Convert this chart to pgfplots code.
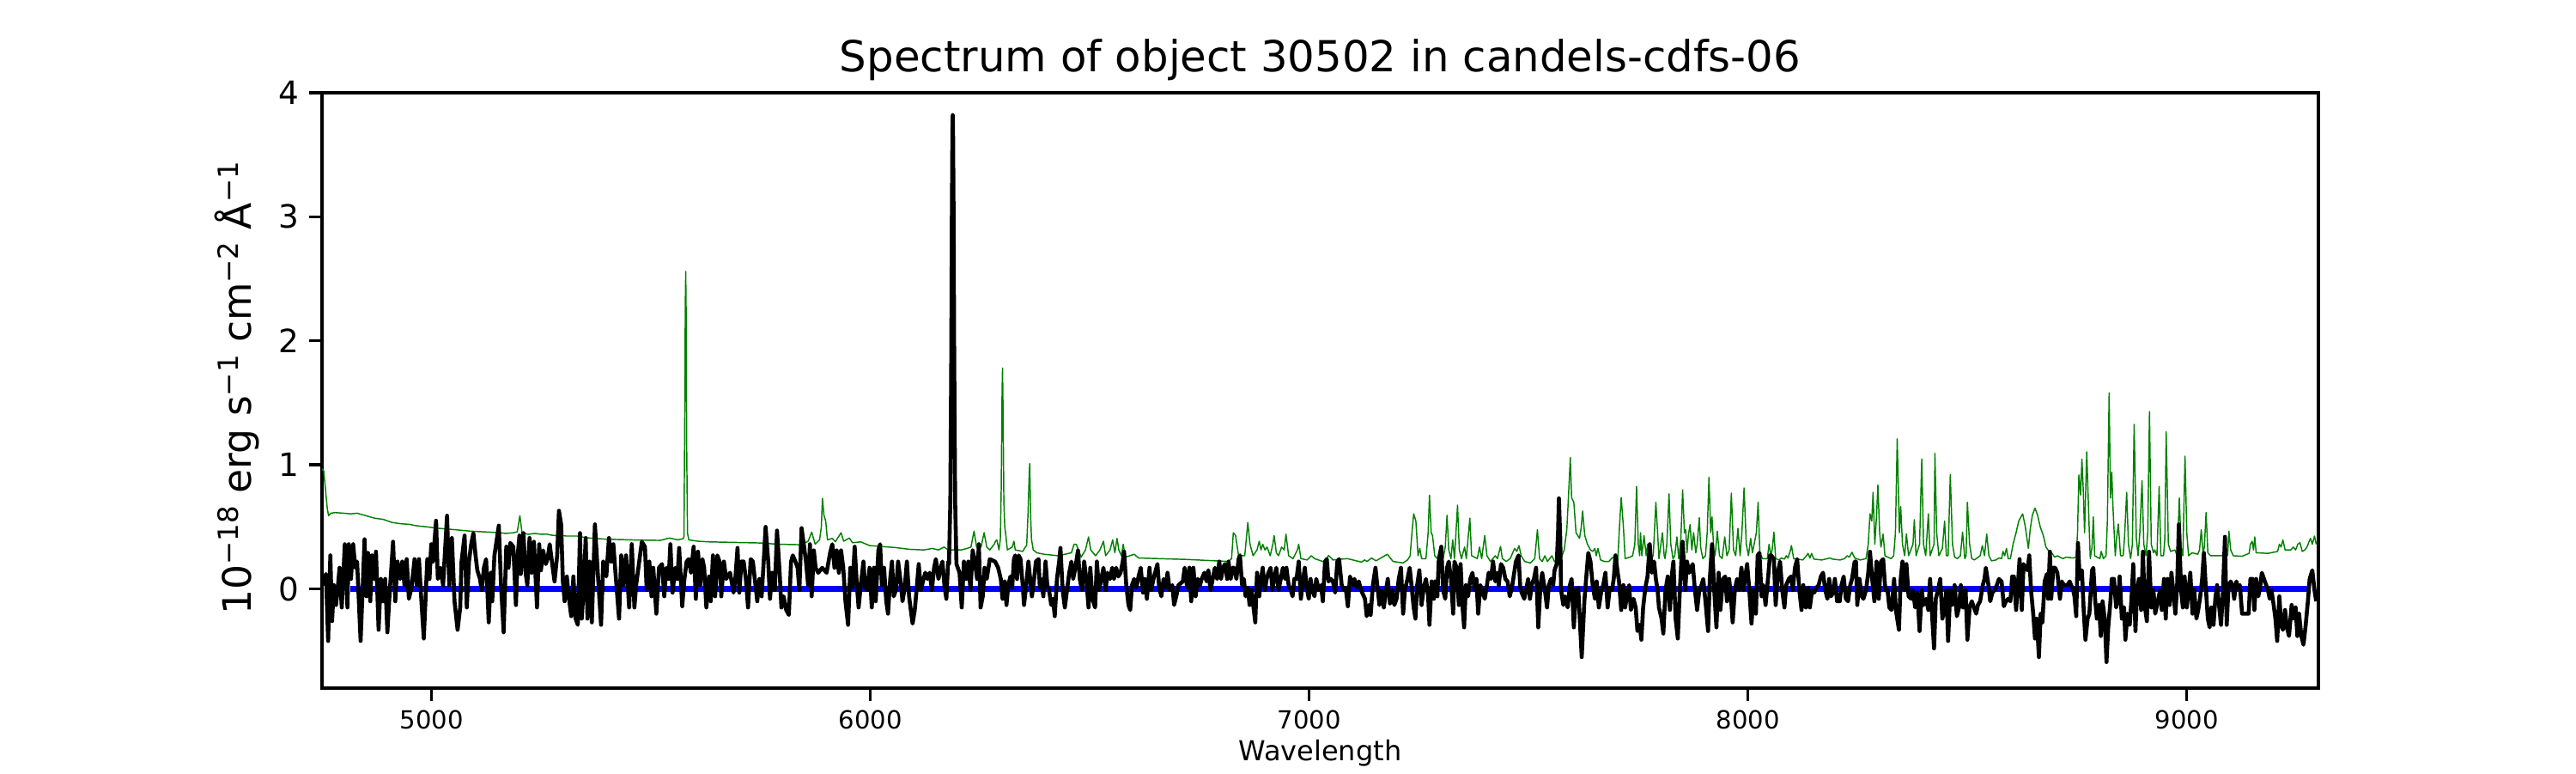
\documentclass[border=0pt]{standalone}
\usepackage{fontspec}
\setmainfont{DejaVu Sans}
\usepackage{pgfplots}
\pgfplotsset{compat=1.18}
\definecolor{mplgreen}{RGB}{0,128,0}
\newcommand{\sups}[1]{\raisebox{3.8bp}{\fontsize{7.8}{9}\selectfont #1}}
\begin{document}
\begin{tikzpicture}
\path[use as bounding box] (-90bp,-23.76bp) rectangle (630bp,192.24bp);
\begin{axis}[
  at={(0,0)}, anchor=south west,
  scale only axis, width=558bp, height=166.32bp,
  xmin=4750, xmax=9300, ymin=-0.8, ymax=4,
  axis line style={line width=0.8bp},
  every tick/.style={line width=0.8bp, black},
  tick align=outside, major tick length=3.5bp,
  xtick pos=bottom, ytick pos=left,
  xtick={5000,6000,7000,8000,9000},
  xticklabels={5000,6000,7000,8000,9000},
  ytick={0,1,2,3,4}, yticklabels={0,1,2,3,4},
  minor tick num=0, scaled ticks=false,
  xticklabel style={font=\fontsize{7}{8}\selectfont, anchor=base, inner sep=0pt, yshift=-7.8bp},
  yticklabel style={font=\fontsize{9}{10}\selectfont, anchor=east, inner sep=0pt, xshift=-2.6bp},
  every axis title/.style={at={(axis description cs:0.5,1)}, anchor=base, yshift=6bp, font=\fontsize{12}{14}\selectfont},
  every axis x label/.style={at={(axis description cs:0.5,0)}, anchor=base, yshift=-20.2bp, font=\fontsize{7.7}{9}\selectfont},
  every axis y label/.style={at={(axis description cs:-0.0353,0.504)}, rotate=90, anchor=base, font=\fontsize{11}{13}\selectfont},
  title={Spectrum of object 30502 in candels-cdfs-06},
  xlabel={Wavelength},
  ylabel={10\sups{−18} erg s\sups{−1} cm\sups{−2} Å\sups{−1}},
  clip=true,
]
% sky / noise spectrum (green)
\addplot[mplgreen, line width=0.35bp, mark=none, line join=round] coordinates {
(4750,0.97)(4754,0.95)(4758,0.8)(4762,0.65)(4765,0.59)(4770,0.61)(4780,0.615)(4800,0.61)(4815,0.605)(4830,0.61)
(4850,0.59)(4870,0.57)(4890,0.56)(4910,0.535)(4930,0.525)(4950,0.52)(4960,0.512)(4975,0.505)(4990,0.50)(5010,0.49)
(5050,0.478)(5090,0.465)(5130,0.458)(5155,0.453)(5168,0.447)(5185,0.452)(5195,0.46)(5201,0.59)(5206,0.45)(5220,0.44)
(5235,0.447)(5250,0.44)(5261,0.442)(5270,0.435)(5280,0.43)(5290,0.435)(5306,0.426)(5332,0.426)(5352,0.412)(5391,0.402)
(5424,0.398)(5456,0.395)(5500,0.392)(5521,0.391)(5542,0.41)(5561,0.395)(5573,0.405)(5575,0.42)(5577,1.5)(5578,2.3)
(5579,2.56)(5580,2.2)(5581,1.2)(5583,0.45)(5586,0.395)(5607,0.384)(5633,0.379)(5698,0.374)(5750,0.37)(5789,0.36)
(5842,0.356)(5858,0.384)(5866,0.458)(5874,0.36)(5884,0.395)(5888,0.5)(5890.5,0.73)(5894,0.593)(5898,0.547)(5902,0.395)
(5913,0.407)(5920,0.38)(5933,0.453)(5939,0.384)(5952,0.41)(5959,0.372)(5978,0.379)(5998,0.349)(6024,0.342)(6057,0.333)
(6089,0.319)(6122,0.314)(6141,0.326)(6155,0.314)(6168,0.337)(6177,0.314)(6207,0.314)(6220,0.326)(6229,0.337)(6236,0.465)
(6242,0.337)(6252,0.337)(6259,0.453)(6265,0.337)(6272,0.314)(6282,0.36)(6285,0.384)(6288,0.395)(6293,0.314)(6296,0.40)
(6298,0.8)(6300,1.6)(6301,1.78)(6302,1.5)(6304,0.7)(6306,0.5)(6308,0.45)(6312,0.314)(6323,0.337)(6327,0.384)
(6330,0.314)(6347,0.302)(6353,0.337)(6356,0.35)(6359,0.6)(6362,0.95)(6363,1.01)(6365,0.6)(6367,0.4)(6371,0.314)
(6379,0.291)(6396,0.279)(6428,0.267)(6458,0.291)(6464,0.36)(6469,0.36)(6474,0.314)(6480,0.256)(6490,0.314)(6497,0.419)
(6502,0.314)(6513,0.267)(6523,0.314)(6531,0.384)(6536,0.267)(6546,0.314)(6552,0.395)(6557,0.291)(6562,0.407)(6566,0.314)
(6572,0.267)(6576,0.36)(6581,0.256)(6601,0.279)(6611,0.249)(6656,0.244)(6722,0.237)(6787,0.226)(6816,0.221)(6823,0.244)
(6827,0.453)(6832,0.43)(6839,0.267)(6853,0.267)(6860,0.535)(6865,0.36)(6872,0.267)(6881,0.314)(6886,0.384)(6890,0.314)
(6894,0.36)(6899,0.314)(6904,0.337)(6911,0.267)(6917,0.36)(6920,0.43)(6925,0.291)(6930,0.267)(6937,0.337)(6943,0.314)
(6947,0.442)(6953,0.267)(6963,0.244)(6973,0.314)(6976,0.36)(6981,0.244)(6995,0.233)(7005,0.267)(7012,0.244)(7031,0.221)
(7035,0.21)(7044,0.27)(7054,0.233)(7087,0.244)(7119,0.216)(7126,0.233)(7132,0.221)(7142,0.249)(7152,0.226)(7178,0.279)
(7191,0.221)(7214,0.209)(7224,0.233)(7230,0.267)(7234,0.45)(7238,0.605)(7243,0.547)(7248,0.267)(7252,0.326)(7256,0.244)
(7266,0.244)(7271,0.453)(7274,0.756)(7278,0.453)(7281,0.43)(7286,0.267)(7292,0.244)(7299,0.337)(7305,0.244)(7310,0.337)
(7314,0.593)(7318,0.314)(7323,0.244)(7327,0.395)(7331,0.244)(7338,0.674)(7342,0.314)(7347,0.244)(7354,0.337)(7358,0.244)
(7366,0.57)(7370,0.267)(7383,0.244)(7388,0.337)(7393,0.244)(7400,0.43)(7405,0.267)(7413,0.221)(7424,0.267)(7429,0.244)
(7436,0.342)(7440,0.244)(7449,0.221)(7458,0.244)(7468,0.326)(7473,0.302)(7478,0.349)(7483,0.267)(7491,0.221)(7504,0.209)
(7514,0.244)(7517,0.36)(7520,0.477)(7525,0.244)(7531,0.221)(7537,0.267)(7543,0.221)(7553,0.267)(7559,0.221)(7570,0.209)
(7581,0.314)(7587,0.477)(7590,0.686)(7595,1.058)(7598,0.733)(7603,0.698)(7608,0.453)(7616,0.407)(7620,0.5)(7623,0.628)
(7628,0.43)(7634,0.36)(7641,0.314)(7646,0.302)(7651,0.326)(7654,0.267)(7658,0.326)(7664,0.233)(7673,0.221)(7683,0.221)
(7692,0.256)(7703,0.221)(7707,0.5)(7711,0.737)(7716,0.5)(7720,0.244)(7731,0.256)(7737,0.267)(7742,0.36)(7746,0.826)
(7750,0.36)(7753,0.267)(7755,0.453)(7758,0.267)(7763,0.43)(7768,0.267)(7771,0.36)(7776,0.244)(7784,0.267)(7790,0.698)
(7794,0.453)(7797,0.244)(7805,0.453)(7809,0.267)
(7811,0.244)(7815,0.36)(7820,0.767)(7824,0.36)(7829,0.244)(7833,0.267)(7838,0.419)(7842,0.244)(7847,0.407)(7851,0.798)
(7855,0.453)(7858,0.477)(7861,0.291)(7864,0.43)(7868,0.519)(7872,0.314)(7876,0.453)(7881,0.291)(7884,0.36)(7889,0.574)
(7892,0.337)(7897,0.244)(7903,0.267)(7907,0.453)(7911,0.9)(7915,0.453)(7918,0.581)(7922,0.314)(7925,0.267)(7930,0.465)
(7935,0.267)(7941,0.244)(7947,0.419)(7952,0.267)(7957,0.314)(7962,0.772)(7967,0.314)(7972,0.267)(7977,0.488)(7982,0.267)
(7986,0.453)(7991,0.814)(7996,0.36)(8001,0.267)(8006,0.407)(8010,0.291)(8014,0.36)(8019,0.453)(8023,0.698)(8027,0.291)
(8033,0.244)(8044,0.244)(8048,0.36)(8052,0.267)(8055,0.314)(8059,0.458)(8063,0.244)(8070,0.233)(8076,0.249)(8083,0.24)
(8087,0.267)(8091,0.249)(8096,0.302)(8099,0.349)(8104,0.244)(8125,0.233)(8133,0.267)(8137,0.286)(8141,0.249)(8145,0.286)
(8150,0.24)(8168,0.233)(8187,0.249)(8192,0.24)(8210,0.233)(8220,0.244)(8226,0.267)(8231,0.256)(8237,0.295)(8243,0.249)
(8256,0.233)(8269,0.244)(8274,0.36)(8278,0.605)(8282,0.547)(8285,0.779)(8289,0.36)(8293,0.593)(8296,0.837)(8300,0.453)
(8303,0.337)(8308,0.442)(8312,0.267)(8326,0.244)(8332,0.267)(8336,0.453)(8340,1.209)(8345,0.453)(8348,0.663)(8352,0.36)
(8357,0.267)(8361,0.442)(8366,0.267)(8376,0.36)(8379,0.558)(8383,0.267)(8391,0.36)(8396,1.047)(8400,0.36)(8405,0.267)
(8411,0.605)(8415,0.267)(8424,0.36)(8426,1.093)(8430,0.453)(8435,0.267)(8443,0.326)(8448,0.547)(8452,0.267)(8456,0.267)
(8461,0.923)(8466,0.36)(8471,0.256)(8477,0.244)(8484,0.267)(8489,0.458)(8494,0.244)(8497,0.267)(8500,0.698)(8505,0.36)
(8510,0.244)(8516,0.233)(8529,0.267)(8534,0.349)(8539,0.267)(8544,0.442)(8549,0.267)(8555,0.226)(8565,0.233)(8572,0.249)
(8578,0.244)(8581,0.302)(8585,0.267)(8589,0.326)(8593,0.244)(8598,0.244)(8604,0.36)(8611,0.453)(8617,0.547)(8626,0.605)
(8632,0.5)(8639,0.326)(8643,0.477)(8648,0.593)(8654,0.651)(8660,0.593)(8666,0.5)(8673,0.43)(8679,0.337)(8686,0.302)
(8692,0.291)(8699,0.256)(8705,0.267)(8718,0.244)(8725,0.256)(8741,0.249)(8748,0.256)(8751,0.453)(8754,0.919)(8758,0.756)
(8761,1.047)(8764,0.802)(8767,0.453)(8772,1.105)(8777,0.547)(8780,0.244)(8784,0.337)(8787,0.581)(8790,0.267)(8802,0.244)
(8805,0.302)(8810,0.244)(8816,0.267)(8819,0.547)(8823,1.581)(8826,0.733)(8829,0.942)(8832,0.64)(8837,0.267)(8840,0.407)
(8844,0.523)(8849,0.267)(8855,0.267)(8858,0.407)(8863,0.779)(8867,0.36)(8872,0.244)(8876,0.36)(8880,1.326)(8885,0.407)
(8889,0.267)(8893,0.453)(8898,0.872)(8902,0.36)(8907,0.267)(8911,0.453)(8915,1.43)(8919,0.36)(8924,0.291)(8927,0.314)
(8932,0.267)(8937,0.826)(8941,0.267)(8947,0.267)(8950,0.407)(8953,1.267)(8958,0.36)(8963,0.302)(8973,0.314)(8978,0.267)
(8983,0.733)(8987,0.337)(8991,0.267)(8996,1.07)(9000,0.453)(9004,0.267)(9012,0.291)(9025,0.279)(9029,0.314)(9033,0.477)
(9037,0.291)(9040,0.337)(9044,0.616)(9048,0.291)(9054,0.267)(9074,0.267)(9093,0.267)(9096,0.465)(9100,0.314)(9106,0.267)
(9126,0.263)(9142,0.286)(9145,0.36)(9149,0.384)(9152,0.314)(9155,0.419)(9158,0.291)(9185,0.286)(9207,0.302)(9211,0.36)
(9215,0.337)(9219,0.395)(9224,0.314)(9237,0.314)(9243,0.337)(9248,0.314)(9253,0.36)(9258,0.372)(9263,0.302)(9269,0.314)
(9274,0.337)(9279,0.384)(9282,0.407)(9286,0.36)(9291,0.426)(9295,0.36)
};
% zero level (blue)
\addplot[blue, line width=1.5bp, mark=none] coordinates {(4814,0) (9282,0)};
% object spectrum (black)
\addplot[black, line width=1.1bp, mark=none, line join=round] coordinates {
(4751,0.03)(4759,0.12)(4764,-0.42)(4769,0.27)(4773,-0.26)(4777,0.03)(4782,-0.13)(4786,0.01)(4790,0.17)(4795,-0.15)
(4802,0.36)(4808,-0.15)(4811,0.36)(4816,0.08)(4821,0.36)(4826,0.17)(4830,0.22)(4838,-0.42)(4847,0.40)(4851,-0.06)
(4855,0.29)(4860,-0.10)(4864,0.27)(4870,0.08)(4873,0.30)(4879,-0.33)(4884,0.08)(4889,-0.10)(4894,0.08)(4899,-0.35)
(4903,-0.10)(4912,0.38)(4917,-0.10)(4922,0.22)(4928,0.08)(4933,0.22)(4938,0.03)(4943,0.24)(4948,-0.08)(4954,0.01)
(4961,0.24)(4966,0.03)(4971,0.24)(4975,-0.01)(4982,-0.40)(4990,0.24)(4995,0.08)(4999,0.36)(5003,0.22)(5010,0.55)
(5014,0.08)(5020,0.17)(5026,0.03)(5029,0.22)(5035,0.59)(5040,0.03)(5046,0.41)(5052,-0.10)(5059,-0.33)(5065,-0.15)
(5068,0.22)(5075,0.43)(5080,-0.15)(5085,0.22)(5090,0.36)(5095,0.45)(5100,0.27)(5104,0.15)(5110,0.08)(5114,-0.01)
(5119,0.17)(5124,0.24)(5130,-0.27)(5135,0.13)(5138,-0.10)(5143,0.27)(5153,0.51)(5158,0.03)(5164,-0.35)(5170,0.34)
(5175,0.17)(5179,0.37)(5186,0.34)(5192,-0.13)(5196,0.27)(5200,0.43)(5203,0.12)(5209,0.45)(5214,0.13)(5218,0.03)
(5223,0.41)(5228,0.13)(5233,0.38)(5240,-0.15)(5245,0.36)(5249,0.15)(5254,0.31)(5260,0.20)(5264,0.24)(5269,0.36)
(5274,0.22)(5280,0.06)(5286,0.27)(5290,0.63)(5295,0.52)(5299,0.06)(5303,-0.10)(5308,0.10)(5313,-0.08)(5318,-0.22)
(5323,0.10)(5328,-0.24)(5333,-0.29)(5338,0.45)(5342,-0.24)(5346,-0.01)(5351,0.41)(5355,-0.24)(5360,0.22)(5365,-0.27)
(5372,0.52)(5377,0.22)(5381,-0.01)(5386,-0.29)(5391,0.22)(5398,0.10)(5404,0.41)(5409,0.22)(5414,0.36)(5421,0.03)
(5427,-0.24)(5432,0.27)(5437,0.03)(5443,0.27)(5450,-0.15)(5456,0.36)(5462,-0.15)(5466,0.03)(5473,0.22)(5479,0.38)
(5486,0.34)(5490,-0.01)(5496,0.22)(5501,-0.06)(5505,0.17)(5512,-0.20)(5518,0.17)
(5525,0.20)(5530,-0.06)(5535,0.17)(5540,0.08)(5544,0.36)(5549,-0.03)(5555,0.17)(5560,0.08)(5564,0.33)(5571,-0.14)
(5576,0.08)(5581,0.22)(5586,0.24)(5591,0.13)(5597,0.34)(5602,-0.08)(5607,0.30)(5612,0.03)(5617,0.24)(5621,0.17)
(5626,-0.15)(5632,0.10)(5636,-0.10)(5641,0.27)(5646,-0.06)(5651,0.27)(5656,0.22)(5660,-0.06)(5666,0.22)(5671,0.08)
(5680,0.13)(5688,-0.03)(5692,0.08)(5697,0.33)(5701,-0.03)(5706,0.22)(5711,0.22)(5716,0.08)(5721,-0.15)(5727,0.24)
(5732,0.22)(5737,0.06)(5742,-0.10)(5747,0.08)(5752,-0.06)(5757,0.24)(5761,0.50)(5767,0.22)(5771,-0.08)(5776,0.13)
(5782,-0.01)(5787,0.47)(5793,0.13)(5797,-0.15)(5802,-0.06)(5808,-0.17)(5814,-0.21)(5819,0.22)(5823,0.27)(5829,0.22)
(5834,0.17)(5838,-0.01)(5843,0.49)(5848,0.36)(5853,0.22)(5858,0.03)(5862,0.36)(5866,-0.06)(5871,0.31)(5875,0.17)
(5881,0.13)(5890,0.17)(5900,0.13)(5908,0.29)(5913,0.36)(5918,0.17)(5923,0.31)(5928,0.13)(5933,0.31)(5938,0.17)
(5943,-0.10)(5949,-0.29)(5954,0.17)(5959,0.01)(5964,0.34)(5969,0.03)(5973,-0.15)(5978,0.03)(5984,0.22)(5988,0.01)
(5993,-0.01)(5998,0.17)(6003,-0.15)(6008,0.17)(6012,-0.10)(6018,0.31)(6022,0.36)(6026,0.03)(6031,0.17)(6036,-0.10)
(6040,-0.20)(6045,0.08)(6049,0.22)(6053,-0.06)(6058,-0.01)(6063,0.22)(6068,0.08)(6073,-0.10)(6078,0.01)(6083,0.22)
(6088,-0.06)(6093,-0.20)(6096,-0.28)(6101,-0.17)(6106,0.03)(6110,0.20)(6115,-0.01)(6121,0.08)(6125,0.13)(6130,0.08)
(6135,0.13)(6140,-0.01)(6145,0.17)(6149,0.24)(6155,0.08)(6160,0.17)(6164,0.22)(6169,0.01)(6173,-0.08)(6177,0.22)
(6179,0.2)(6182,0.7)(6184.2,1.9)(6185.5,3.0)(6186.8,3.7)(6187.5,3.82)(6188.2,3.7)(6189.5,3.0)(6190.8,1.9)(6193,0.7)
(6196,0.2)(6199,0.17)(6203,0.13)(6208,-0.15)(6213,0.22)(6218,0.08)(6223,0.22)(6228,-0.01)(6233,0.31)(6238,0.22)
(6243,0.08)(6247,0.36)(6251,-0.15)(6256,-0.06)(6260,0.17)(6265,0.08)(6272,0.24)(6284,0.22)
(6291,0.17)(6297,0.08)(6301,-0.08)(6306,0.06)(6310,-0.13)(6314,0.03)(6319,0.10)(6323,0.01)(6327,0.24)(6330,0.27)
(6334,0.08)(6338,0.27)(6342,0.24)(6347,0.03)(6350,-0.13)(6355,0.03)(6360,0.22)(6364,0.08)(6368,-0.06)(6373,0.08)
(6377,0.22)(6383,0.24)(6386,0.01)(6389,0.08)(6394,-0.06)(6399,0.22)(6403,0.03)(6407,-0.01)(6412,-0.13)(6416,-0.08)
(6420,-0.22)(6425,0.08)(6430,0.22)(6433,0.33)(6438,-0.01)(6443,-0.15)(6448,-0.01)(6453,0.13)(6458,0.22)(6462,0.08)
(6467,0.17)(6473,0.31)(6477,0.08)(6482,-0.01)(6487,0.22)(6492,0.08)(6497,-0.15)(6501,0.17)(6506,-0.08)(6512,-0.15)
(6516,0.22)(6521,-0.01)(6526,0.08)(6531,0.17)(6536,-0.01)(6540,0.13)(6546,0.08)(6551,0.17)(6555,0.08)(6560,0.17)
(6565,0.10)(6570,0.13)(6575,0.22)(6578,0.30)(6583,0.03)(6588,-0.13)(6592,-0.17)(6596,0.03)(6601,0.08)(6606,0.01)
(6611,0.10)(6616,0.17)(6621,-0.03)(6625,0.08)(6630,-0.08)(6636,0.17)(6640,-0.01)(6645,0.08)(6654,0.20)(6658,0.01)
(6663,-0.06)(6668,0.08)(6673,0.01)(6677,0.13)(6682,-0.01)(6688,0.03)(6692,-0.13)(6697,-0.06)(6702,0.03)(6712,0.06)
(6716,0.17)(6722,0.01)(6727,0.17)(6731,-0.10)(6736,0.17)(6741,-0.06)(6746,0.08)(6751,0.03)(6755,0.08)(6761,0.13)
(6766,0.06)(6770,0.15)(6775,-0.01)(6780,0.08)(6785,0.17)(6790,0.08)(6795,0.22)(6799,0.08)(6803,0.17)(6808,0.20)
(6813,0.08)(6816,0.22)(6821,0.08)(6825,0.17)(6829,0.17)(6834,0.08)(6839,0.24)(6842,0.27)(6847,0.03)(6851,0.08)
(6855,-0.06)(6860,0.01)(6864,-0.13)(6868,-0.01)(6873,-0.15)(6877,-0.27)(6881,0.13)(6886,-0.06)(6890,0.08)(6894,0.17)
(6899,-0.01)(6903,0.08)(6907,0.13)(6912,0.17)(6916,-0.01)(6920,0.08)(6925,0.17)(6930,-0.01)(6935,0.08)(6940,0.17)
(6945,0.08)(6948,0.17)(6953,0.03)(6958,-0.01)(6962,-0.06)(6966,0.08)(6971,0.08)(6976,0.22)(6981,-0.08)(6986,0.08)
(6990,0.17)(6994,0.01)(6999,-0.08)(7003,0.08)(7007,-0.01)(7012,-0.06)(7016,0.08)(7022,-0.01)(7027,0.03)(7031,-0.10)
(7036,0.22)(7040,0.24)
(7044,0.06)(7049,0.08)(7054,0.06)(7059,-0.03)(7064,0.22)(7068,0.24)(7074,0.03)(7079,-0.01)(7083,0.01)(7088,-0.14)
(7093,0.10)(7098,0.03)(7103,0.08)(7108,0.01)(7113,0.06)(7118,-0.01)(7127,-0.08)(7131,-0.22)(7136,-0.13)(7140,-0.21)
(7145,0.03)(7151,0.17)(7155,0.03)(7160,-0.13)(7165,-0.01)(7170,-0.15)(7175,-0.01)(7179,0.08)(7184,-0.12)(7190,-0.01)
(7194,-0.13)(7199,-0.08)(7204,0.08)(7209,0.17)(7214,-0.20)(7218,-0.01)(7224,0.08)(7229,0.17)(7233,0.03)(7238,-0.15)
(7242,-0.24)(7246,0.03)(7251,0.15)(7256,-0.13)(7261,0.01)(7266,0.08)(7271,-0.06)(7274,-0.29)(7279,0.06)(7284,-0.08)
(7287,0.06)(7292,-0.06)(7295,0.22)(7301,0.34)(7305,-0.01)(7310,-0.08)(7314,0.17)(7318,0.22)(7323,0.08)(7328,-0.20)
(7331,0.22)(7336,0.17)(7341,-0.13)(7345,0.20)(7349,-0.13)(7353,-0.31)(7357,0.03)(7362,-0.06)(7367,0.08)(7372,0.13)
(7377,-0.01)(7381,0.08)(7385,-0.20)(7390,0.03)(7394,-0.01)(7400,-0.08)(7405,0.03)(7409,0.13)(7414,0.08)(7419,0.22)
(7424,0.06)(7429,0.13)(7432,0.03)(7437,0.20)(7442,0.17)(7447,0.08)(7452,0.06)(7457,-0.06)(7462,0.01)(7471,0.22)
(7477,0.27)(7481,0.01)(7484,-0.03)(7490,-0.08)(7494,-0.01)(7499,0.08)(7503,-0.08)(7507,0.03)(7512,0.08)(7517,0.17)
(7522,-0.31)(7527,0.03)(7531,0.13)(7537,-0.01)(7542,-0.15)(7546,0.03)(7551,0.08)(7556,0.03)(7559,0.15)(7564,0.20)
(7567,0.45)(7569,0.73)(7572,0.41)(7574,-0.01)(7579,-0.13)(7583,-0.06)(7589,-0.15)(7594,0.03)(7598,0.08)(7603,-0.31)
(7608,-0.01)(7613,0.01)(7618,-0.34)(7621,-0.55)(7627,-0.10)(7631,0.08)(7636,0.29)(7641,0.22)(7646,0.03)(7651,-0.08)
(7655,0.06)(7660,-0.15)(7666,-0.01)(7670,0.03)(7675,0.13)(7680,-0.15)(7685,0.01)(7690,-0.01)(7694,0.08)(7698,0.27)
(7703,0.13)(7706,0.06)(7711,-0.17)(7716,0.03)(7720,-0.15)(7724,-0.06)(7729,0.03)(7733,-0.17)(7739,-0.08)(7744,-0.15)
(7748,-0.34)(7753,-0.29)(7757,-0.41)(7761,-0.15)(7766,0.01)(7771,0.10)(7776,0.36)(7781,0.13)(7786,0.22)(7790,0.08)
(7794,-0.01)(7797,-0.15)(7803,-0.24)(7807,-0.36)
(7812,-0.01)(7817,0.10)(7822,-0.17)(7827,0.13)(7830,0.22)(7835,-0.24)(7840,-0.40)(7844,-0.06)(7848,0.22)(7851,0.38)
(7857,-0.01)(7861,0.22)(7866,0.13)(7870,0.17)(7874,0.20)(7879,-0.01)(7884,-0.17)(7889,-0.01)(7894,0.03)(7898,0.08)
(7903,-0.10)(7909,-0.34)(7913,0.08)(7918,0.36)(7923,-0.01)(7928,-0.31)(7933,0.13)(7937,-0.17)(7943,0.08)(7948,0.10)
(7952,-0.10)(7957,0.08)(7961,-0.06)(7965,-0.27)(7970,-0.01)(7975,0.08)(7980,-0.01)(7985,0.17)(7990,-0.01)(7993,0.08)
(7998,0.20)(8003,-0.01)(8008,-0.28)(8013,-0.01)(8018,-0.20)(8022,0.27)(8026,0.29)(8031,-0.06)(8035,0.03)(8040,-0.13)
(8046,0.10)(8050,0.27)(8053,0.27)(8059,0.24)(8063,-0.13)(8068,0.13)(8073,0.22)(8078,-0.01)(8083,-0.15)(8087,0.03)
(8093,0.08)(8098,0.10)(8102,-0.01)(8107,0.17)(8112,0.24)(8117,-0.01)(8122,-0.17)(8126,0.03)(8132,-0.15)(8137,0.01)
(8141,-0.15)(8146,-0.01)(8151,-0.03)(8156,0.01)(8161,0.03)(8166,0.10)(8171,0.13)(8176,-0.01)(8181,-0.08)(8185,0.08)
(8189,-0.06)(8194,-0.03)(8198,0.08)(8203,-0.10)(8209,-0.10)(8213,0.03)(8218,0.10)(8223,-0.08)(8228,-0.10)(8233,0.03)
(8237,0.08)(8243,0.22)(8246,0.22)(8249,-0.13)(8254,0.08)(8259,-0.06)(8263,-0.08)(8269,-0.01)(8274,0.13)(8278,0.30)
(8283,0.08)(8288,-0.10)(8293,0.22)(8298,-0.08)(8303,0.22)(8308,0.24)(8313,-0.01)(8318,-0.01)(8322,-0.15)(8327,-0.17)
(8333,0.08)(8337,-0.17)(8344,-0.33)(8348,0.08)(8352,0.22)(8357,-0.01)(8361,0.20)(8366,-0.06)(8372,-0.08)(8376,-0.01)
(8381,-0.15)(8386,-0.03)(8391,-0.34)(8396,-0.01)(8400,-0.13)(8406,-0.08)(8411,-0.17)(8415,0.08)(8420,-0.24)(8424,-0.48)
(8428,-0.08)(8433,-0.01)(8438,0.08)(8443,-0.24)(8448,-0.15)(8452,-0.01)(8456,-0.42)(8461,-0.01)(8466,-0.13)(8471,0.03)
(8476,-0.22)(8481,-0.15)(8485,0.03)(8490,-0.15)(8496,-0.01)(8500,-0.41)(8505,-0.15)(8510,-0.10)(8515,-0.15)(8520,-0.20)
(8524,-0.13)(8529,-0.10)(8535,0.03)(8539,0.08)(8542,0.17)(8548,0.03)(8552,-0.10)(8557,-0.03)(8562,-0.01)(8567,0.03)
(8572,0.08)
(8574,0.07)(8578,0.06)(8583,-0.14)(8588,-0.10)(8593,-0.08)(8598,-0.10)(8602,0.10)(8606,0.10)(8611,-0.17)(8615,0.03)
(8619,0.24)(8624,-0.17)(8628,0.20)(8632,0.17)(8637,0.15)(8641,0.27)(8645,-0.01)(8650,-0.20)(8654,-0.40)(8658,-0.24)
(8663,-0.55)(8667,-0.20)(8671,-0.27)(8676,0.06)(8681,0.12)(8684,-0.08)(8688,0.30)(8691,-0.08)(8696,0.17)(8700,0.17)
(8705,0.13)(8711,-0.08)(8715,0.06)(8720,0.03)(8728,0.03)(8733,0.06)(8741,-0.01)(8744,-0.06)(8748,-0.22)(8752,0.37)
(8756,0.08)(8761,0.15)(8765,-0.17)(8769,-0.41)(8774,-0.24)(8778,-0.20)(8784,0.15)(8787,0.17)(8791,-0.08)(8795,-0.24)
(8800,-0.13)(8804,-0.38)(8808,-0.10)(8813,-0.24)(8817,-0.59)(8821,-0.31)(8826,-0.10)(8829,0.08)(8834,0.08)(8839,-0.15)
(8844,-0.08)(8847,0.10)(8852,-0.24)(8857,-0.15)(8860,-0.41)(8865,-0.20)(8870,-0.29)(8874,-0.08)(8878,0.20)(8883,-0.34)
(8887,-0.01)(8891,0.08)(8896,-0.17)(8900,0.30)(8904,-0.13)(8909,-0.26)(8914,0.30)(8919,-0.15)(8924,-0.01)(8928,-0.20)
(8934,-0.10)(8939,-0.01)(8943,-0.17)(8948,0.08)(8952,-0.24)(8956,0.08)(8961,-0.13)(8965,0.13)(8969,-0.01)(8974,-0.20)
(8978,0.03)(8982,0.52)(8987,-0.01)(8991,-0.15)(8995,0.10)(9000,-0.15)(9004,-0.01)(9008,0.13)(9013,-0.20)(9017,-0.01)
(9022,-0.24)(9026,-0.17)(9030,-0.08)(9035,0.08)(9039,0.29)(9043,0.03)(9048,-0.24)(9052,-0.31)(9056,-0.15)(9061,-0.29)
(9065,-0.08)(9069,0.03)(9074,-0.15)(9078,-0.29)(9082,-0.06)(9087,0.42)(9091,-0.29)(9095,0.01)(9100,0.06)(9104,0.03)
(9108,-0.08)(9113,0.06)(9117,0.01)(9121,0.03)(9126,-0.20)(9141,-0.20)(9145,0.08)(9150,0.08)(9154,-0.17)(9158,0.08)
(9163,-0.06)(9167,0.01)(9171,0.13)(9176,0.08)(9185,-0.01)(9189,-0.08)(9193,-0.01)(9198,-0.13)(9202,-0.24)(9206,-0.42)
(9211,-0.06)(9215,-0.29)(9219,-0.33)(9224,-0.17)(9228,-0.31)(9233,-0.38)(9239,-0.13)(9243,-0.24)(9248,-0.15)(9252,-0.38)
(9256,-0.20)(9261,-0.38)(9266,-0.45)(9271,-0.29)(9276,-0.10)(9280,0.08)(9286,0.15)(9291,-0.01)(9295,-0.10)
};
\end{axis}
\end{tikzpicture}
\end{document}
